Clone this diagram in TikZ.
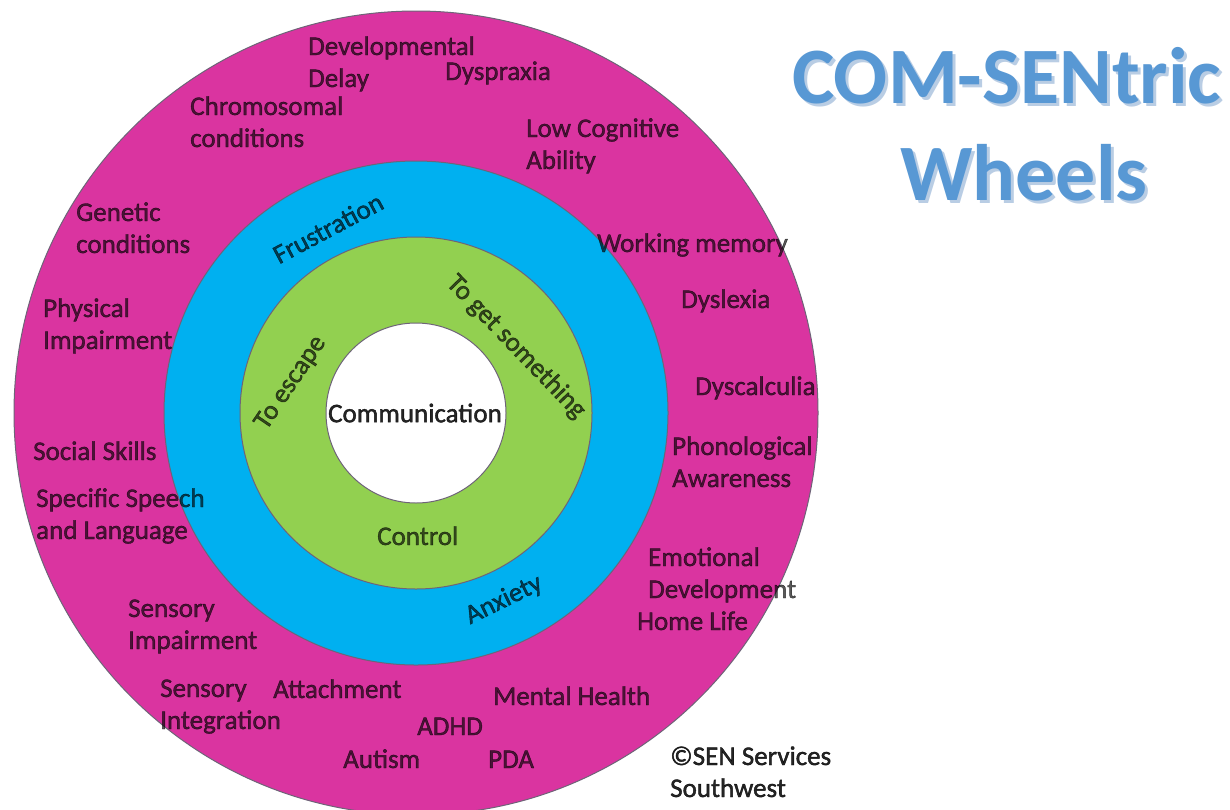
\documentclass[tikz,border=0pt]{standalone}
\usepackage{fontspec}
\setmainfont{Carlito}
\newfontfamily\lblfont{Carlito}[FakeBold=1.5]
\definecolor{ringpink}{RGB}{218,52,160}
\definecolor{ringblue}{RGB}{0,176,240}
\definecolor{ringgreen}{RGB}{146,208,80}
\definecolor{ringedge}{RGB}{110,100,120}
\definecolor{titleblue}{RGB}{88,152,212}
\definecolor{titleshade}{RGB}{185,205,228}
\newcommand\twolines[2]{\vtop{\hbox{#1}\hbox{#2}}}
\tikzset{
  ring/.style={draw=ringedge, line width=1pt},
  lbl/.style={anchor=base west, inner sep=0pt, text=black, text opacity=0.65,
              font=\lblfont\fontsize{27}{32}\selectfont},
  rlbl/.style={anchor=center, inner sep=0pt, text=black, text opacity=0.65,
              font=\lblfont\fontsize{27}{32}\selectfont},
  dark/.style={text opacity=0.85},
  titletext/.style={anchor=base west, inner sep=0pt,
              font=\fontsize{80}{97}\selectfont\bfseries},
}
\begin{document}
\begin{tikzpicture}[x=1pt, y=-1pt]
\useasboundingbox (0,0) rectangle (1230,809);
\fill[white] (0,0) rectangle (1230,809);

% concentric wheels
\coordinate (c) at (416,413);
\filldraw[ring, fill=ringpink]  (c) circle [radius=402pt];
\filldraw[ring, fill=ringblue]  (c) circle [radius=252pt];
\filldraw[ring, fill=ringgreen] (c) circle [radius=176pt];
\filldraw[ring, fill=white]     (c) circle [radius=90pt];

% centre
\node[rlbl, dark] (comm) at (415,413) {Communication};

% inner ring: functions
\node[rlbl] (escape) at (291,383) [rotate=56] {To escape};
\node[rlbl] (getsth) at (516,347) [rotate=-46] {To get something};
\node[lbl] (control) at (377,545) {Control};

% middle ring: feelings
\node[rlbl] (frustr) at (328,228) [rotate=28] {Frustration};
\node[rlbl] (anxiety) at (504,600) [rotate=26] {Anxiety};

% outer ring: needs
\node[lbl] (devdelay) at (308,55) {\twolines{Developmental}{Delay}};
\node[lbl] (dyspraxia) at (445,80) {Dyspraxia};
\node[lbl] (chromo) at (190,115) {\twolines{Chromosomal}{conditions}};
\node[lbl] (lowcog) at (526,137) {\twolines{Low Cognitive}{Ability}};
\node[lbl] (genetic) at (76,221) {\twolines{Genetic}{conditions}};
\node[lbl] (working) at (597,252) {Working memory};
\node[lbl] (dyslexia) at (681,308) {Dyslexia};
\node[lbl] (physical) at (43,317) {\twolines{Physical}{Impairment}};
\node[lbl] (dyscalc) at (695,395) {Dyscalculia};
\node[lbl] (social) at (33,460) {Social Skills};
\node[lbl] (phono) at (672,455) {\twolines{Phonological}{Awareness}};
\node[lbl] (speech) at (36,507) {\twolines{Specific Speech}{and Language}};
\node[lbl] (emotion) at (648,566) {\twolines{Emotional}{Development}};
\node[lbl] (sensimp) at (128,617) {\twolines{Sensory}{Impairment}};
\node[lbl] (homelife) at (637,630) {Home Life};
\node[lbl] (sensint) at (160,697) {\twolines{Sensory}{Integration}};
\node[lbl] (attach) at (273,698) {Attachment};
\node[lbl] (mental) at (493,705) {Mental Health};
\node[lbl] (adhd) at (417,735) {ADHD};
\node[lbl] (autism) at (343,768) {Autism};
\node[lbl] (pda) at (488,768) {PDA};

% credit
\node[lbl, dark] (credit) at (670,765) {\twolines{©SEN Services}{Southwest}};

% title with soft shadow
\node[titletext, text=titleshade] at (795,106) {COM-SENtric};
\node[titletext, text=titleshade] at (903,203) {Wheels};
\node[titletext, text=titleblue] (title1) at (792,103) {COM-SENtric};
\node[titletext, text=titleblue] (title2) at (900,200) {Wheels};
\end{tikzpicture}
\end{document}
